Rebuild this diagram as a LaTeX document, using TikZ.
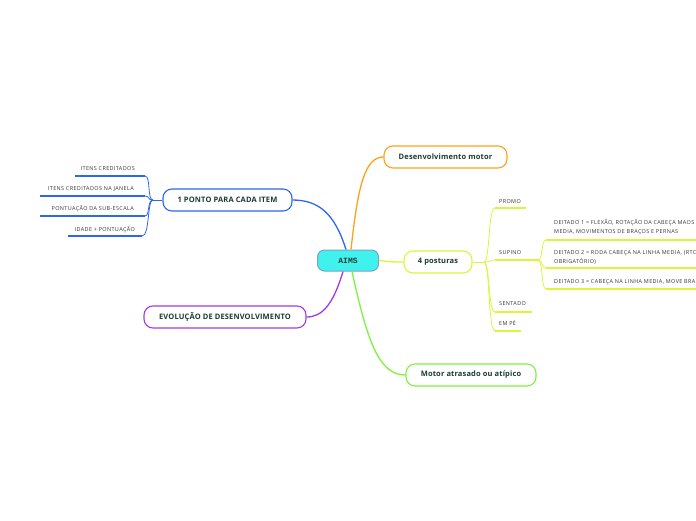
\documentclass[tikz,border=0pt]{standalone}
\usepackage{fontspec}
\setmainfont{Open Sans}
\newfontfamily\leaffont[LetterSpace=7]{Open Sans}
\newfontfamily\mainfont[LetterSpace=2]{Open Sans}
\newfontfamily\monofnt{Liberation Mono}
\definecolor{cblue}{HTML}{2E66F0}
\definecolor{corange}{HTML}{FFA21A}
\definecolor{cpurple}{HTML}{A23BE6}
\definecolor{cgreen}{HTML}{7EF23E}
\definecolor{cyel}{HTML}{DCF53A}
\definecolor{ccyan}{HTML}{40F2EE}
\definecolor{cedge}{HTML}{7F9FC8}
\definecolor{ctext}{HTML}{1C3B35}
\definecolor{csmall}{HTML}{333333}
\tikzset{
  mainbox/.style={draw, line width=1.1pt, rounded corners=9pt, fill=white,
    minimum height=22pt, inner xsep=8pt, font=\mainfont\fontsize{7.5}{9}\selectfont\bfseries, text=ctext},
  leaf/.style={font=\leaffont\fontsize{5.45}{9}\selectfont, text=csmall, inner sep=0pt},
  uline/.style={line width=1.6pt},
  conn/.style={line width=1.3pt},
  thin/.style={line width=0.8pt},
}
\begin{document}
\begin{tikzpicture}[x=1pt,y=-1pt]
\useasboundingbox (0,0) rectangle (696,520);
\clip (0,0) rectangle (696,520);
% central
\node[draw=cedge, line width=1pt, fill=ccyan, rounded corners=7pt, minimum width=61pt, minimum height=21pt,
  font=\monofnt\fontsize{8}{9}\selectfont\bfseries, text=ctext] (aims) at (348,260.5) {AIMS};
% main nodes
\node[mainbox, draw=corange, minimum width=123pt] (dm) at (445.5,157) {Desenvolvimento motor};
\node[mainbox, draw=cyel, minimum width=68pt] (pos) at (438,262) {4 posturas};
\node[mainbox, draw=cgreen, minimum width=130pt] (ma) at (471,375) {Motor atrasado ou atípico};
\node[mainbox, draw=cblue, minimum width=129pt] (pt) at (227.5,200) {1 PONTO PARA CADA ITEM};
\node[mainbox, draw=cpurple, minimum width=162pt] (ev) at (225,317) {EVOLUÇÃO DE DESENVOLVIMENTO};
% main connectors
\draw[conn, corange] ([xshift=3pt]aims.north) .. controls (358,185) and (365,157) .. (dm.west);
\draw[conn, cblue] ([xshift=-2pt]aims.north) .. controls (335,215) and (320,200) .. (pt.east);
\draw[conn, cpurple] ([xshift=-5pt]aims.south) .. controls (333,305) and (322,317) .. (ev.east);
\draw[conn, cgreen] ([xshift=4pt]aims.south) .. controls (368,345) and (380,375) .. (ma.west);
\draw[conn, cyel] (aims.east) .. controls (390,262) and (395,262) .. (pos.west);
% left leaves
\coordinate (jl) at (153,200);
\draw[thin, cblue] (pt.west) -- (jl);
\node[leaf, anchor=base east] (l1) at (135,170) {ITENS CREDITADOS};
\node[leaf, anchor=base east] (l2) at (134,190) {ITENS CREDITADOS NA JANELA};
\node[leaf, anchor=base east] (l3) at (134,210) {PONTUAÇÃO DA SUB-ESCALA};
\node[leaf, anchor=base east] (l4) at (135,231) {IDADE + PONTUAÇÃO};
\coordinate (u1a) at (75,176);  \coordinate (u1b) at (145,176);
\coordinate (u2a) at (40,196);  \coordinate (u2b) at (145,196);
\coordinate (u3a) at (40,216);  \coordinate (u3b) at (145,216);
\coordinate (u4a) at (68,236);  \coordinate (u4b) at (142,236);
\foreach \i in {1,2,3,4}{
  \draw[uline, cblue] (u\i a) -- (u\i b);
}
\draw[thin, cblue] (jl) .. controls (147,200) and (151,176) .. (u1b);
\draw[thin, cblue] (jl) .. controls (147,200) and (150,196) .. (u2b);
\draw[thin, cblue] (jl) .. controls (147,200) and (150,216) .. (u3b);
\draw[thin, cblue] (jl) .. controls (147,200) and (150,236) .. (u4b);
% right leaves of 4 posturas
\coordinate (jr) at (484,262);
\draw[thin, cyel] (pos.east) -- (jr);
\node[leaf, anchor=base west] (p1) at (499,203) {PROMO};
\node[leaf, anchor=base west] (p2) at (499,254.5) {SUPINO};
\node[leaf, anchor=base west] (p3) at (499,305) {SENTADO};
\node[leaf, anchor=base west] (p4) at (499,325.5) {EM PÉ};
\coordinate (v1a) at (495,208);  \coordinate (v1b) at (526,208);
\coordinate (v2a) at (495,260);  \coordinate (v2b) at (538,260);
\coordinate (v3a) at (495,312);  \coordinate (v3b) at (532,312);
\coordinate (v4a) at (495,331);  \coordinate (v4b) at (521,331);
\foreach \i in {1,2,3,4}{
  \draw[uline, cyel] (v\i a) -- (v\i b);
}
\draw[thin, cyel] (jr) .. controls (490,262) and (488,208) .. (v1a);
\draw[thin, cyel] (jr) .. controls (490,262) and (490,260) .. (v2a);
\draw[thin, cyel] (jr) .. controls (490,262) and (488,312) .. (v3a);
\draw[thin, cyel] (jr) .. controls (490,262) and (488,331) .. (v4a);
% supino children
\node[leaf, anchor=base west, align=left] (s1) at (554,233.5) {DEITADO 1 = FLEXÃO, ROTAÇÃO DA CABEÇA MAOS\\MEDIA, MOVIMENTOS DE BRAÇOS E PERNAS};
\node[leaf, anchor=base west, align=left] (s2) at (554,263) {DEITADO 2 = RODA CABEÇA NA LINHA MEDIA, (RTC\\OBRIGATÓRIO)};
\node[leaf, anchor=base west] (s3) at (554,283.5) {DEITADO 3 = CABEÇA NA LINHA MEDIA, MOVE BRA};
\coordinate (w1a) at (546,240);  \coordinate (w1b) at (700,240);
\coordinate (w2a) at (546,268);  \coordinate (w2b) at (700,268);
\coordinate (w3a) at (546,289);  \coordinate (w3b) at (700,289);
\foreach \i in {1,2,3}{
  \draw[uline, cyel] (w\i a) -- (w\i b);
}
\draw[thin, cyel] (v2b) .. controls (543,260) and (541,240) .. (w1a);
\draw[thin, cyel] (v2b) .. controls (543,260) and (541,268) .. (w2a);
\draw[thin, cyel] (v2b) .. controls (543,260) and (541,289) .. (w3a);
\end{tikzpicture}
\end{document}
